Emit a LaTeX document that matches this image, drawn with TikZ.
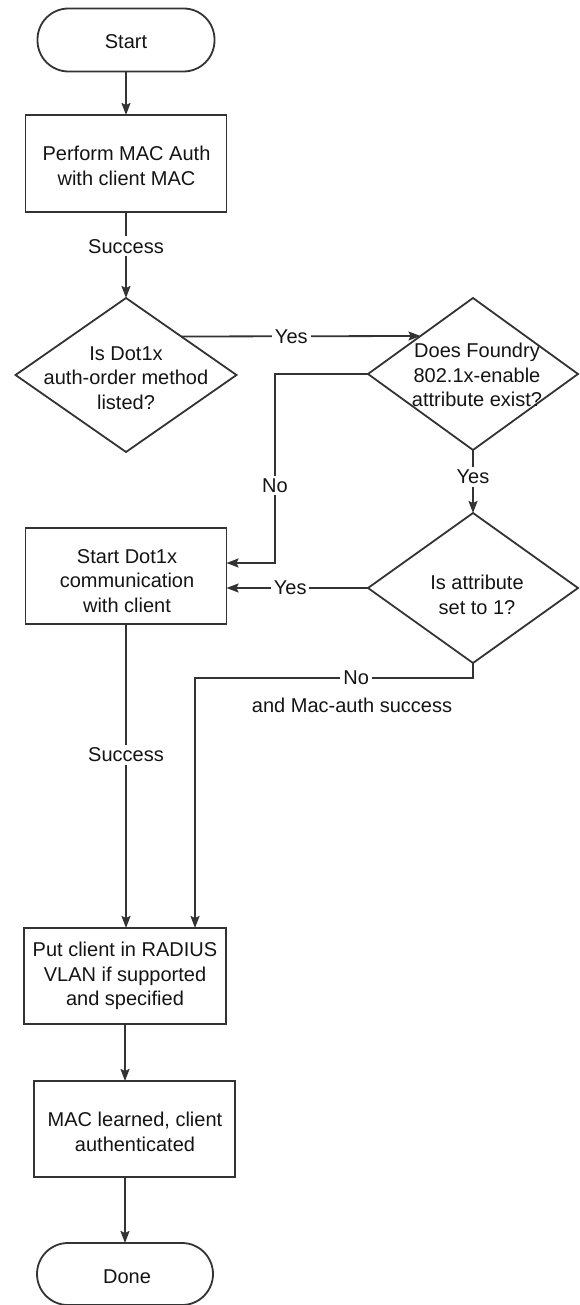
\documentclass[tikz,border=0pt]{standalone}
\usepackage{fontspec}
\setmainfont{Liberation Sans}
\usetikzlibrary{shapes.geometric,arrows.meta}
\begin{document}
\begin{tikzpicture}[x=1pt,y=-1pt,
  font=\fontsize{20}{24.5}\selectfont,
  every node/.style={text=black!92},
  line/.style={draw=black!80, line width=1.8pt},
  arr/.style={line, -{Stealth[length=12pt,width=9pt,inset=2pt]}},
  procbox/.style={rectangle, draw=black!80, line width=1.8pt,
    minimum width=201pt, minimum height=96pt, inner sep=0pt, outer sep=0pt},
  termbox/.style={rectangle, rounded corners=31pt, draw=black!80, line width=1.8pt,
    minimum width=177pt, minimum height=63pt, inner sep=0pt, outer sep=0pt},
  decision/.style={diamond, draw=black!80, line width=1.8pt, inner sep=0pt, outer sep=0pt},
  lbl/.style={fill=white, inner sep=3pt},
  txt/.style={align=center, inner sep=0pt}
]
\useasboundingbox (0,0) rectangle (579,1305);

% shapes
\node[termbox] (start) at (126,40) {};
\node[txt] (startT) at (126,42) {Start};

\node[procbox, minimum height=97pt] (box1) at (126,163.5) {};
\node[txt] (box1T) at (126.5,166) {Perform MAC Auth\\with client MAC};

\node[decision, minimum width=221pt, minimum height=154pt] (d1) at (126,375) {};
\node[txt] (d1T) at (126,378) {Is Dot1x\\auth-order method\\listed?};

\node[decision, minimum width=210pt, minimum height=152pt] (d2) at (473,374) {};
\node[txt] (d2T) at (477,375) {Does Foundry\\802.1x-enable\\attribute exist?};

\node[decision, minimum width=210pt, minimum height=150pt] (d3) at (473,588) {};
\node[txt] (d3T) at (477,595) {Is attribute\\set to 1?};

\node[procbox] (box2) at (126,576) {};
\node[txt] (box2T) at (127,581) {Start Dot1x\\communication\\with client};

\node[procbox, minimum width=202pt] (box3) at (125,976) {};
\node[txt] (box3T) at (125,976) {Put client in RADIUS\\VLAN if supported\\and specified};

\node[procbox] (box4) at (134.5,1129) {};
\node[txt] (box4T) at (135,1132) {MAC learned, client\\authenticated};

\node[termbox, minimum width=176pt, minimum height=62pt] (done) at (125,1274) {};
\node[txt] (doneT) at (127,1277) {Done};

% bend points
\coordinate (nobendA) at (275,374);
\coordinate (nobendB) at (275,563);
\coordinate (d3drop) at (473,678);
\coordinate (macbend) at (195,678);

% connectors
\draw[arr] (start.south) -- (start.south |- box1.north);
\draw[arr] (box1.south) -- node[lbl, pos=0.4] {Success} (d1.north);
\draw[arr] (d1.north east) -- node[lbl, pos=0.46] {Yes} (d2.north west);
\draw[arr] (d2.south) -- node[lbl, pos=0.43] {Yes} (d3.north);
\draw[arr] (d2.west) -- (nobendA) -- node[lbl, pos=0.59] {No} (nobendB)
  -- ([yshift=13pt]box2.east);
\draw[arr] (d3.west) -- node[lbl, pos=0.55] {Yes} (box2.east |- d3.west);
\draw[arr] (d3.south) -- (d3drop) -- node[lbl, pos=0.42] (noL) {No} (macbend)
  -- (box3.north -| macbend);
\node[txt] (macT) at (352,705) {and Mac-auth success};
\draw[arr] (box2.south) -- node[lbl, pos=0.43] {Success} (box2.south |- box3.north);
\draw[arr] (box3.south) -- (box3.south |- box4.north);
\draw[arr] (box4.south -| done.north) -- (done.north);
\end{tikzpicture}
\end{document}
